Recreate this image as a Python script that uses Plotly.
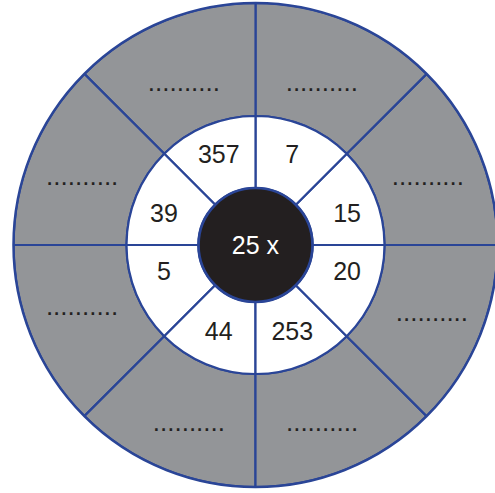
import plotly.graph_objects as go

# Data
inner_labels = ["15", "7", "357", "39", "5", "44", "253", "20"]  # counter-clockwise from east
outer_labels = [".........."] * 8
center_label = "25 x"
segment_angles = [22.5 + 45 * i for i in range(8)]

R_CENTER = 57
R_INNER = 129
R_OUTER = 242

BLUE = "#2a4597"
GRAY = "#939598"
BLACK = "#231f20"
FONT = "Liberation Sans, Arial, sans-serif"
LW = 2.2

W, H = 500, 493
CX, CY = 255.5, 245  # desired centre in pixels (from top-left)

# label placement (style)
inner_label_r = 96
inner_label_offset = [-5, 0, 0, 5, -5, 0, 0, 5]
outer_label_r = [184.7, 174, 176, 185.6, 184.6, 191, 191, 189.5]
outer_label_offset = [-1.5, 0.1, 1.5, 1.5, -2.5, 2.1, -2.1, 1.1]

inner_theta = [a + o for a, o in zip(segment_angles, inner_label_offset)]
outer_theta = [a + o for a, o in zip(segment_angles, outer_label_offset)]

fig = go.Figure()

fig.add_trace(go.Barpolar(
    r=[R_OUTER - R_INNER] * 8, base=[R_INNER] * 8, theta=segment_angles,
    width=[45] * 8, marker=dict(color=GRAY, line=dict(color=BLUE, width=LW)),
    hoverinfo="skip"))
fig.add_trace(go.Barpolar(
    r=[R_INNER - R_CENTER] * 8, base=[R_CENTER] * 8, theta=segment_angles,
    width=[45] * 8, marker=dict(color="white", line=dict(color=BLUE, width=LW)),
    hoverinfo="skip"))
fig.add_trace(go.Barpolar(
    r=[R_CENTER], base=[0], theta=[0], width=[360],
    marker=dict(color=BLACK, line=dict(color=BLUE, width=LW + 0.5)),
    hoverinfo="skip"))

fig.add_trace(go.Scatterpolar(
    r=[inner_label_r] * 8, theta=inner_theta, mode="text", text=inner_labels,
    textfont=dict(family=FONT, size=25, color=BLACK), hoverinfo="skip"))
fig.add_trace(go.Scatterpolar(
    r=outer_label_r, theta=outer_theta, mode="text", text=outer_labels,
    textfont=dict(family=FONT, size=26, color=BLACK), hoverinfo="skip"))
fig.add_trace(go.Scatterpolar(
    r=[3], theta=[270], mode="text", text=[center_label],
    textfont=dict(family=FONT, size=25, color="white"), hoverinfo="skip"))

R_PX = 242
fig.update_layout(
    width=W, height=H,
    margin=dict(l=0, r=0, t=0, b=0),
    paper_bgcolor="white",
    showlegend=False,
    polar=dict(
        domain=dict(x=[(CX - R_PX) / W, (CX + R_PX) / W],
                    y=[(H - CY - R_PX) / H, (H - CY + R_PX) / H]),
        bgcolor="white",
        bargap=0,
        radialaxis=dict(visible=False, range=[0, R_OUTER]),
        angularaxis=dict(showgrid=False, showticklabels=False, ticks="",
                         showline=True, linecolor=BLUE, linewidth=2.5),
    ),
)

fig.write_html(
    "out.html",
    config={"displayModeBar": False},
    post_script="document.body.style.margin='0';document.body.style.overflow='hidden';",
)
